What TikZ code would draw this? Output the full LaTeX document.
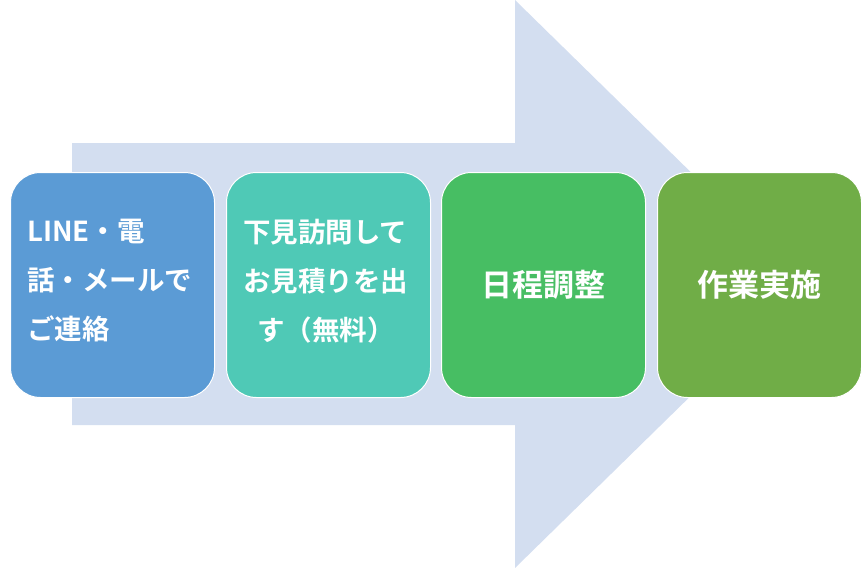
\documentclass[tikz,border=0pt]{standalone}
\usepackage{fontspec}
\newfontfamily\cjk{Noto Sans CJK JP}[BoldFont={* Bold}]
\definecolor{arr}{HTML}{D3DEF0}
\definecolor{cA}{HTML}{5B9BD5}
\definecolor{cB}{HTML}{4FC9B6}
\definecolor{cC}{HTML}{47BE63}
\definecolor{cD}{HTML}{70AD47}
\tikzset{
 stepbox/.style={draw=white,line width=1pt,rounded corners=30pt,minimum width=204pt,minimum height=225pt,anchor=north west,inner sep=0pt},
 txt/.style={text=white,font=\cjk\bfseries\fontsize{27.5}{49}\selectfont,align=left,anchor=west,inner sep=0pt},
 big/.style={font=\cjk\bfseries\fontsize{31}{49}\selectfont}
}
\begin{document}
\begin{tikzpicture}[x=1pt,y=-1pt]
\useasboundingbox (0,0) rectangle (863,568);
\fill[arr] (72,143) -- (515,143) -- (515,0) -- (805,284) -- (515,568) -- (515,425) -- (72,425) -- cycle;
\node[stepbox,fill=cA] (b1) at (10,172) {};
\node[stepbox,fill=cB] (b2) at (226,172) {};
\node[stepbox,fill=cC] (b3) at (441,172) {};
\node[stepbox,fill=cD] (b4) at (657,172) {};
\node[txt] (t1) at (27,281) {LINE・電\\話・メールで\\ご連絡};
\node[txt] (t2) at (243,281) {下見訪問して\\お見積りを出\\\hspace{14pt}す（無料）};
\node[txt,big,anchor=center] (t3) at (b3.center) {日程調整};
\node[txt,big,anchor=center] (t4) at (b4.center) {作業実施};
\end{tikzpicture}
\end{document}
